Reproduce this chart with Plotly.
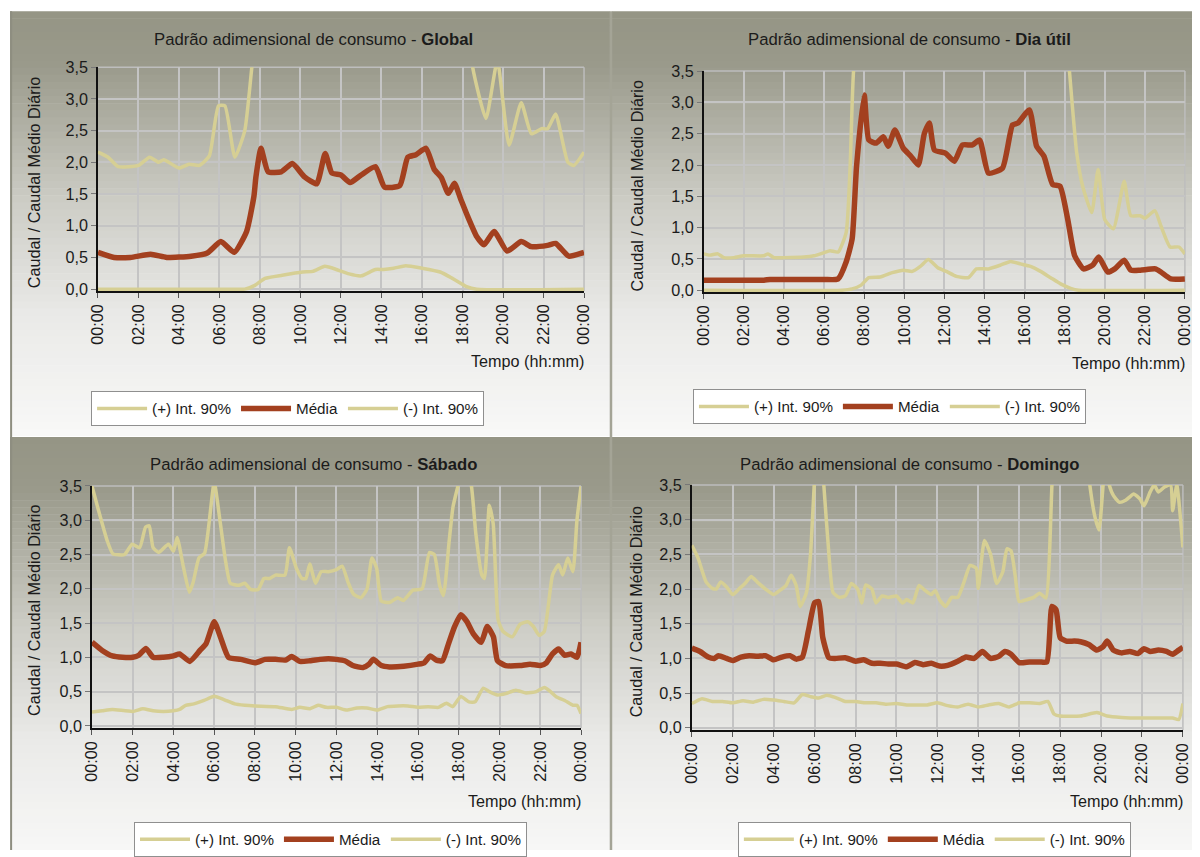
import plotly.graph_objects as go

W, H = 1200, 857
# the page is shown with the default 8 px body margin and scaled back to the window,
# so layout positions (given in window pixels) are converted with these factors
BODY = 8
SX = (W + 2 * BODY) / W
SY = (H + 2 * BODY) / H

# ---------------------------------------------------------------- data
# hours of the day (0-24) and dimensionless flow (flow / mean daily flow)

# Global
global_up_t = [0, 0.5, 1.0, 2.0, 2.55, 3.0, 3.25, 4.0, 4.5, 5.0, 5.5, 5.95, 6.27, 6.76, 7.25,
               7.6, 8.0, 11.0, 14.0, 17.0, 18.2, 18.5, 19.16, 19.72, 20.3, 20.9, 21.4, 21.9,
               22.2, 22.6, 23.2, 23.5, 24.0]
global_up = [2.16, 2.08, 1.93, 1.95, 2.08, 2.00, 2.04, 1.91, 1.97, 1.95, 2.10, 2.89, 2.89, 2.08, 2.50,
             3.50, 4.60, 5.20, 5.00, 5.30, 4.50, 3.50, 2.69, 3.60, 2.27, 2.94, 2.45, 2.53,
             2.53, 2.76, 2.00, 1.95, 2.16]
global_med_t = [0, 0.8, 1.6, 2.6, 3.4, 4.6, 5.4, 6.07, 6.73, 7.34, 7.7, 7.8, 8.05, 8.4, 9.05, 9.6,
                10.2, 10.8, 11.22, 11.55, 12.0, 12.45, 13.0, 13.7, 14.15, 14.9, 15.3, 15.7, 16.2,
                16.6, 16.95, 17.3, 17.6, 17.9, 18.25, 18.7, 19.06, 19.56, 20.2, 20.9, 21.4, 22.2,
                22.6, 23.25, 23.9, 24.0]
global_med = [0.58, 0.50, 0.50, 0.55, 0.50, 0.52, 0.57, 0.75, 0.58, 0.91, 1.46, 1.77, 2.22, 1.85,
              1.85, 1.98, 1.77, 1.66, 2.14, 1.83, 1.80, 1.68, 1.80, 1.93, 1.61, 1.63, 2.08, 2.12,
              2.22, 1.89, 1.76, 1.51, 1.67, 1.43, 1.15, 0.83, 0.70, 0.91, 0.60, 0.75, 0.67, 0.69,
              0.72, 0.52, 0.57, 0.58]
global_lo_t = [0, 6.5, 7.25, 7.75, 8.25, 9.1, 10.1, 10.6, 11.2, 11.6, 12.4, 13.0, 13.7, 14.1, 14.6,
               15.2, 16.0, 16.9, 17.5, 18.2, 18.7, 24.0]
global_lo = [0, 0, 0.0, 0.06, 0.17, 0.22, 0.27, 0.28, 0.36, 0.33, 0.24, 0.21, 0.31, 0.31, 0.33,
             0.37, 0.33, 0.27, 0.17, 0.04, 0.0, 0.0]

# Dia útil
util_up_t = [0, 0.3, 0.7, 1.0, 1.5, 2.0, 3.0, 3.2, 3.5, 4.0, 5.0, 5.5, 6.0, 6.3, 6.7, 7.1, 7.3,
             7.47, 8.0, 12.0, 16.0, 18.0, 18.24, 18.6, 18.9, 19.35, 19.67, 20.0, 20.43, 20.97,
             21.3, 21.77, 22.0, 22.5, 22.8, 23.26, 23.7, 24.0]
util_up = [0.58, 0.56, 0.58, 0.52, 0.52, 0.55, 0.55, 0.58, 0.52, 0.52, 0.53, 0.55, 0.60, 0.63,
           0.61, 0.92, 1.98, 3.50, 5.00, 5.50, 5.30, 4.50, 3.50, 2.20, 1.66, 1.24, 1.93, 1.13,
           0.98, 1.74, 1.19, 1.19, 1.15, 1.27, 1.03, 0.69, 0.69, 0.58]
util_med_t = [0, 3.0, 3.3, 6.0, 6.7, 7.1, 7.4, 7.62, 8.0, 8.23, 8.6, 8.96, 9.2, 9.53, 9.95, 10.33,
              10.7, 11.0, 11.25, 11.5, 12.05, 12.5, 12.9, 13.4, 13.76, 14.2, 14.9, 15.4, 15.67,
              16.24, 16.6, 16.97, 17.4, 17.77, 18.15, 18.5, 18.95, 19.4, 19.7, 20.15, 20.5,
              20.97, 21.3, 21.77, 22.53, 22.8, 23.3, 24.0]
util_med = [0.16, 0.16, 0.17, 0.17, 0.18, 0.45, 0.82, 1.98, 3.12, 2.40, 2.35, 2.45, 2.30, 2.56,
            2.27, 2.14, 2.00, 2.50, 2.67, 2.24, 2.19, 2.06, 2.32, 2.32, 2.40, 1.87, 1.95, 2.64,
            2.67, 2.88, 2.30, 2.14, 1.69, 1.66, 1.14, 0.55, 0.34, 0.40, 0.53, 0.29, 0.34, 0.48,
            0.32, 0.32, 0.34, 0.29, 0.18, 0.18]
util_lo_t = [0, 6.9, 7.4, 7.85, 8.23, 8.8, 9.4, 9.95, 10.4, 10.8, 11.2, 11.67, 12.1, 12.6, 13.2,
             13.6, 14.2, 14.8, 15.3, 15.8, 16.3, 16.8, 17.3, 17.8, 18.3, 18.7, 24.0]
util_lo = [0, 0, 0.02, 0.08, 0.20, 0.21, 0.28, 0.32, 0.30, 0.38, 0.49, 0.36, 0.30, 0.22, 0.20,
           0.34, 0.34, 0.40, 0.46, 0.42, 0.38, 0.30, 0.20, 0.10, 0.03, 0.0, 0.0]

# Sábado
sab_up_t = [0, 0.28, 0.75, 1.03, 1.6, 1.97, 2.34, 2.63, 2.81, 3.0, 3.28, 3.75, 4.0, 4.18, 4.5,
            4.78, 4.97, 5.25, 5.53, 6.0, 6.28, 6.56, 6.79, 7.22, 7.5, 7.78, 8.16, 8.44, 8.72,
            9.0, 9.47, 9.69, 10.03, 10.31, 10.5, 10.69, 10.97, 11.25, 11.6, 12.0, 12.28, 12.56,
            12.84, 13.2, 13.5, 13.74, 13.97, 14.2, 14.6, 15.0, 15.28, 15.75, 16.2, 16.56, 16.8,
            17.06, 17.25, 17.53, 17.72, 17.96, 18.28, 18.62, 18.84, 19.13, 19.26, 19.5, 19.69,
            19.93, 20.16, 20.63, 21.0, 21.38, 21.66, 21.94, 22.2, 22.6, 22.9, 23.1, 23.35,
            23.6, 23.8, 24.0]
sab_up = [3.50, 3.19, 2.70, 2.51, 2.50, 2.65, 2.60, 2.90, 2.92, 2.60, 2.53, 2.65, 2.55, 2.75,
          2.30, 1.95, 2.10, 2.45, 2.52, 3.55, 3.00, 2.40, 2.08, 2.05, 2.08, 1.99, 1.99, 2.15,
          2.15, 2.20, 2.20, 2.60, 2.30, 2.15, 2.15, 2.36, 2.08, 2.25, 2.25, 2.28, 2.33, 2.10,
          1.92, 1.87, 2.00, 2.45, 2.30, 1.82, 1.80, 1.87, 1.83, 1.98, 2.00, 2.53, 2.50, 2.05,
          1.90, 2.70, 3.20, 3.50, 3.90, 3.50, 2.80, 2.20, 2.15, 3.22, 2.95, 1.55, 1.38, 1.30,
          1.48, 1.52, 1.45, 1.32, 1.38, 2.20, 2.35, 2.20, 2.45, 2.25, 3.00, 3.50]
sab_med_t = [0, 0.5, 1.0, 1.5, 2.0, 2.3, 2.65, 3.0, 3.5, 4.0, 4.3, 4.8, 5.3, 5.6, 6.0, 6.3, 6.7,
             7.3, 8.0, 8.5, 9.0, 9.5, 9.8, 10.2, 10.7, 11.2, 11.6, 12.0, 12.4, 12.8, 13.3, 13.6,
             13.8, 14.2, 14.6, 15.3, 16.0, 16.3, 16.6, 16.9, 17.2, 17.5, 17.8, 18.1, 18.4, 18.7,
             19.1, 19.4, 19.7, 19.9, 20.3, 21.0, 21.5, 22.0, 22.3, 22.6, 22.9, 23.2, 23.5, 23.8,
             24.0]
sab_med = [1.22, 1.10, 1.02, 1.00, 1.00, 1.03, 1.13, 1.00, 1.00, 1.02, 1.05, 0.94, 1.10, 1.20,
           1.52, 1.30, 1.00, 0.97, 0.92, 0.97, 0.97, 0.96, 1.01, 0.94, 0.95, 0.97, 0.98, 0.97,
           0.95, 0.88, 0.85, 0.90, 0.97, 0.88, 0.86, 0.87, 0.90, 0.92, 1.02, 0.96, 0.95, 1.20,
           1.45, 1.62, 1.52, 1.35, 1.22, 1.45, 1.30, 0.95, 0.88, 0.88, 0.90, 0.88, 0.92, 1.05,
           1.12, 1.03, 1.05, 1.00, 1.22]
sab_lo_t = [0, 0.5, 1.0, 2.0, 2.5, 3.0, 3.5, 4.0, 4.3, 4.6, 5.0, 5.5, 6.0, 6.5, 7.0, 7.5, 8.0,
            9.0, 9.8, 10.2, 10.7, 11.1, 11.5, 12.0, 12.5, 13.0, 13.5, 14.0, 14.5, 15.0, 15.5,
            16.0, 16.5, 17.0, 17.4, 17.7, 18.1, 18.5, 18.8, 19.2, 19.5, 19.9, 20.3, 20.8, 21.3,
            21.8, 22.2, 22.5, 22.8, 23.2, 23.6, 23.8, 24.0]
sab_lo = [0.20, 0.22, 0.24, 0.21, 0.25, 0.22, 0.21, 0.22, 0.24, 0.30, 0.32, 0.37, 0.43, 0.38,
          0.32, 0.30, 0.29, 0.28, 0.24, 0.27, 0.25, 0.30, 0.27, 0.27, 0.23, 0.26, 0.26, 0.23,
          0.28, 0.29, 0.29, 0.27, 0.28, 0.27, 0.33, 0.28, 0.43, 0.35, 0.35, 0.55, 0.50, 0.45,
          0.47, 0.52, 0.48, 0.50, 0.56, 0.50, 0.42, 0.37, 0.30, 0.30, 0.18]

# Domingo
dom_up_t = [0, 0.3, 0.7, 1.0, 1.2, 1.4, 1.7, 2.0, 2.3, 2.6, 2.9, 3.2, 3.6, 4.0, 4.3, 4.6, 4.85,
            5.1, 5.3, 5.6, 5.8, 6.0, 6.2, 6.45, 6.7, 6.9, 7.2, 7.5, 7.8, 8.1, 8.3, 8.5, 8.8, 9.0,
            9.3, 9.6, 10.0, 10.3, 10.5, 10.8, 11.1, 11.4, 11.7, 11.9, 12.1, 12.4, 12.7, 13.0,
            13.3, 13.6, 13.9, 14.0, 14.3, 14.6, 14.9, 15.2, 15.4, 15.6, 15.8, 16.0, 16.4, 16.7,
            17.0, 17.3, 17.6, 17.8, 19.0, 19.45, 19.7, 19.9, 20.1, 20.2, 20.4, 20.6, 20.9, 21.2,
            21.6, 21.9, 22.1, 22.4, 22.6, 22.8, 23.1, 23.4, 23.5, 23.7, 24.0]
dom_up = [2.63, 2.45, 2.10, 2.01, 2.00, 2.10, 2.03, 1.92, 2.00, 2.08, 2.18, 2.10, 2.00, 1.92,
          1.98, 2.05, 2.20, 2.05, 1.75, 1.95, 2.50, 3.60, 4.50, 3.50, 2.50, 1.95, 1.88, 1.90,
          2.08, 2.00, 1.80, 2.06, 2.00, 1.80, 1.90, 1.88, 1.90, 1.80, 1.85, 1.80, 2.05, 1.98,
          1.92, 1.98, 1.85, 1.75, 1.88, 1.88, 2.10, 2.34, 2.30, 2.01, 2.70, 2.50, 2.08, 2.25,
          2.58, 2.55, 2.20, 1.82, 1.85, 1.88, 1.94, 1.87, 3.50, 4.50, 4.80, 3.50, 3.04, 2.85,
          3.50, 3.80, 3.50, 3.35, 3.25, 3.28, 3.37, 3.30, 3.20, 3.40, 3.50, 3.40, 3.47, 3.50,
          3.13, 3.50, 2.60]
dom_med_t = [0, 0.4, 0.8, 1.1, 1.3, 1.7, 2.0, 2.4, 2.8, 3.2, 3.6, 4.0, 4.4, 4.8, 5.1, 5.4, 5.7,
             6.0, 6.2, 6.4, 6.7, 7.0, 7.5, 8.0, 8.4, 8.8, 9.2, 9.6, 10.0, 10.5, 10.9, 11.3, 11.7,
             12.1, 12.5, 13.0, 13.4, 13.8, 14.2, 14.6, 15.0, 15.3, 15.6, 16.0, 16.5, 17.0, 17.35,
             17.6, 17.8, 18.0, 18.3, 18.7, 19.0, 19.4, 19.8, 20.1, 20.3, 20.6, 21.0, 21.4, 21.8,
             22.1, 22.4, 22.8, 23.2, 23.5, 23.8, 24.0]
dom_med = [1.15, 1.10, 1.02, 1.00, 1.04, 1.00, 0.97, 1.02, 1.04, 1.03, 1.04, 0.98, 1.02, 1.04,
           0.99, 1.02, 1.40, 1.80, 1.82, 1.30, 1.01, 1.00, 1.01, 0.96, 0.98, 0.93, 0.93, 0.92,
           0.92, 0.88, 0.94, 0.91, 0.93, 0.89, 0.90, 0.96, 1.02, 1.00, 1.10, 1.00, 1.03, 1.10,
           1.06, 0.94, 0.95, 0.95, 0.95, 1.75, 1.70, 1.30, 1.25, 1.25, 1.24, 1.20, 1.12, 1.17,
           1.25, 1.12, 1.08, 1.10, 1.07, 1.14, 1.10, 1.12, 1.10, 1.06, 1.12, 1.16]
dom_lo_t = [0, 0.5, 1.0, 1.5, 2.0, 2.5, 3.0, 3.5, 4.0, 4.5, 5.0, 5.4, 5.8, 6.2, 6.6, 7.0, 7.5,
            8.0, 8.5, 9.0, 9.5, 10.0, 10.5, 11.0, 11.5, 12.0, 12.5, 13.0, 13.5, 14.0, 14.5,
            15.0, 15.5, 16.0, 16.5, 17.0, 17.4, 17.7, 18.0, 19.0, 19.8, 20.3, 21.0, 22.0, 22.5,
            23.0, 23.5, 23.8, 24.0]
dom_lo = [0.35, 0.42, 0.38, 0.38, 0.36, 0.39, 0.37, 0.41, 0.40, 0.38, 0.36, 0.48, 0.45, 0.43,
          0.47, 0.44, 0.38, 0.38, 0.36, 0.36, 0.34, 0.35, 0.33, 0.33, 0.33, 0.36, 0.32, 0.30,
          0.34, 0.30, 0.33, 0.35, 0.30, 0.36, 0.36, 0.35, 0.38, 0.20, 0.17, 0.17, 0.22, 0.17,
          0.15, 0.14, 0.14, 0.14, 0.14, 0.12, 0.35]

x_tickvals = list(range(0, 25, 2))
x_ticktext = ["00:00", "02:00", "04:00", "06:00", "08:00", "10:00", "12:00",
              "14:00", "16:00", "18:00", "20:00", "22:00", "00:00"]
y_tickvals = [0, 0.5, 1.0, 1.5, 2.0, 2.5, 3.0, 3.5]
y_ticktext = ["0,0", "0,5", "1,0", "1,5", "2,0", "2,5", "3,0", "3,5"]

series_names = ["(+) Int. 90%", "Média", "(-) Int. 90%"]

# ---------------------------------------------------------------- styling
FONT = "Liberation Sans Narrow, Arial Narrow, Liberation Sans, Arial, sans-serif"
TXT = "#1b1b1b"
C_MED = "#a3401f"
C_BAND = "#d6cf94"


def fs(size):
    return round(size * SX, 1)


def px(x):
    """window x (px) -> paper fraction"""
    return min(max((x * SX - BODY) / W, 0.0), 1.0)


def py(y):
    """window y (px, from top) -> paper fraction"""
    return min(max(1 - (y * SY - BODY) / H, 0.0), 1.0)


# panel frames and plot areas, in window pixels
panels = [
    dict(name="Global", frame=(7, 10, 609, 435), plot=(96, 66, 583, 290),
         up=(global_up_t, global_up), med=(global_med_t, global_med), lo=(global_lo_t, global_lo),
         ytitle_x=32, legend=(286, 390), tempo=(585, 360)),
    dict(name="Dia útil", frame=(611, 10, 1200, 435), plot=(703, 70, 1185, 291),
         up=(util_up_t, util_up), med=(util_med_t, util_med), lo=(util_lo_t, util_lo),
         ytitle_x=636, legend=(889, 388), tempo=(1187, 362)),
    dict(name="Sábado", frame=(7, 436, 609, 857), plot=(90, 485, 580, 727),
         up=(sab_up_t, sab_up), med=(sab_med_t, sab_med), lo=(sab_lo_t, sab_lo),
         ytitle_x=32, legend=(329, 821), tempo=(582, 800)),
    dict(name="Domingo", frame=(611, 436, 1200, 857), plot=(691, 484, 1183, 729),
         up=(dom_up_t, dom_up), med=(dom_med_t, dom_med), lo=(dom_lo_t, dom_lo),
         ytitle_x=636, legend=(934, 821), tempo=(1185, 800)),
]

fig = go.Figure()
shapes = []
annotations = []
layout = dict(width=W, height=H, margin=dict(l=0, r=0, t=0, b=0),
              paper_bgcolor="white", plot_bgcolor="white", showlegend=True,
              font=dict(family=FONT, color=TXT, size=15))


def mix(c0, c1, t):
    return tuple(round(a + (b - a) * t) for a, b in zip(c0, c1))


# vertical gradient of a panel: (position 0..1, rgb)
grad_stops = [(0.0, (149, 149, 133)), (0.12, (153, 153, 138)), (0.45, (205, 205, 198)),
              (0.72, (234, 234, 232)), (1.0, (248, 248, 247))]


def grad_color(t):
    for (t0, c0), (t1, c1) in zip(grad_stops[:-1], grad_stops[1:]):
        if t <= t1:
            return mix(c0, c1, (t - t0) / (t1 - t0))
    return grad_stops[-1][1]


NB = 60
for i, p in enumerate(panels):
    fx0, fy0, fx1, fy1 = p["frame"]
    # panel background bands
    for k in range(NB):
        ya = fy0 + (fy1 - fy0) * k / NB
        yb = fy0 + (fy1 - fy0) * (k + 1) / NB + 0.6
        c = grad_color((k + 0.5) / NB)
        shapes.append(dict(type="rect", xref="paper", yref="paper", layer="below",
                           x0=px(fx0), x1=px(fx1), y0=py(min(yb, fy1)), y1=py(ya),
                           line=dict(width=0), fillcolor="rgb(%d,%d,%d)" % c))

    ax = "" if i == 0 else str(i + 1)
    x0, y0, x1, y1 = p["plot"]
    layout["xaxis" + ax] = dict(
        domain=[px(x0), px(x1)], anchor="y" + ax, range=[0, 24],
        tickvals=x_tickvals, ticktext=x_ticktext, tickangle=-90,
        tickfont=dict(family=FONT, size=fs(16), color=TXT),
        showgrid=True, gridcolor="#c4c4c4", gridwidth=1.5,
        showline=True, linecolor="#111111", linewidth=1.5, layer="below traces",
        ticks="outside", ticklen=5, tickcolor="#555555", zeroline=False, fixedrange=True)
    layout["yaxis" + ax] = dict(
        domain=[py(y1), py(y0)], anchor="x" + ax, range=[-0.03, 3.5],
        tickvals=y_tickvals, ticktext=y_ticktext,
        tickfont=dict(family=FONT, size=fs(16), color=TXT),
        showgrid=True, gridcolor="#c4c4c4", gridwidth=1.5,
        showline=True, linecolor="#111111", linewidth=1.5, layer="below traces",
        ticks="outside", ticklen=5, tickcolor="#777777", zeroline=False, fixedrange=True)

    # light frame on the top and right of the plot area
    shapes.append(dict(type="line", xref="paper", yref="paper", layer="below",
                       x0=px(x0), x1=px(x1), y0=py(y0), y1=py(y0),
                       line=dict(color="#bdbdbd", width=1.5)))
    shapes.append(dict(type="line", xref="paper", yref="paper", layer="below",
                       x0=px(x1), x1=px(x1), y0=py(y1), y1=py(y0),
                       line=dict(color="#bdbdbd", width=1.5)))

    leg = "legend" if i == 0 else "legend%d" % (i + 1)
    for (tx, ty), name, color, width in [(p["up"], series_names[0], C_BAND, 3.5),
                                         (p["med"], series_names[1], C_MED, 5.5),
                                         (p["lo"], series_names[2], C_BAND, 3.5)]:
        fig.add_trace(go.Scatter(x=tx, y=ty, mode="lines", name=name,
                                 line=dict(color=color, width=width, shape="spline", smoothing=0.5),
                                 xaxis="x" + ax, yaxis="y" + ax, legend=leg,
                                 hoverinfo="skip"))

    lx, ly = p["legend"]
    layout[leg] = dict(orientation="h", x=px(lx), y=py(ly), xanchor="center", yanchor="top",
                       bgcolor="white", bordercolor="#8f8f8f", borderwidth=1,
                       font=dict(family=FONT, size=fs(15), color=TXT), itemwidth=50,
                       itemclick=False, itemdoubleclick=False)

    # panel title
    annotations.append(dict(xref="paper", yref="paper", x=px((fx0 + fx1) / 2 + 4),
                            y=py(fy0 + 28), xanchor="center", yanchor="middle", showarrow=False,
                            text="Padrão adimensional de consumo - <b>%s</b>" % p["name"],
                            font=dict(family=FONT, size=fs(16.5), color=TXT)))
    # y-axis title
    annotations.append(dict(xref="paper", yref="paper", x=px(p["ytitle_x"]),
                            y=py((y0 + y1) / 2 + 4), xanchor="center", yanchor="middle",
                            showarrow=False, textangle=-90,
                            text="Caudal / Caudal Médio Diário",
                            font=dict(family=FONT, size=fs(16), color=TXT)))
    # x-axis title
    tx_, ty_ = p["tempo"]
    annotations.append(dict(xref="paper", yref="paper", x=px(tx_), y=py(ty_),
                            xanchor="right", yanchor="middle", showarrow=False,
                            text="Tempo (hh:mm)", font=dict(family=FONT, size=fs(16), color=TXT)))

# panel separators
shapes.append(dict(type="line", xref="paper", yref="paper", layer="below",
                   x0=px(610), x1=px(610), y0=py(857), y1=py(10),
                   line=dict(color="#a4a496", width=2.5)))
shapes.append(dict(type="line", xref="paper", yref="paper", layer="below",
                   x0=px(9), x1=px(9), y0=py(857), y1=py(10),
                   line=dict(color="#8e8e80", width=2)))

layout["shapes"] = shapes
layout["annotations"] = annotations
fig.update_layout(**layout)

fig.write_html("out.html")
